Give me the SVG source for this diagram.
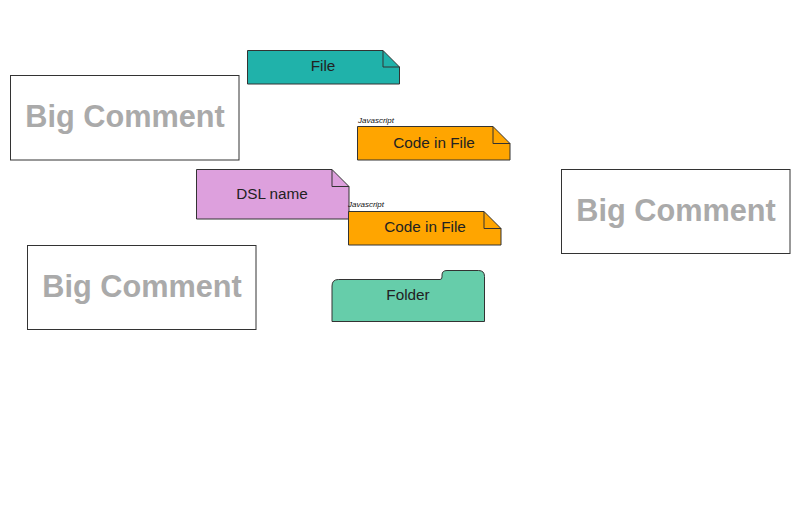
<svg xmlns="http://www.w3.org/2000/svg" width="800" height="532" viewBox="0 0 800 532">
<style>
.note{stroke:#333;stroke-width:1}
.fold{fill:none;stroke:#333;stroke-width:1}
.lbl{font-family:"Liberation Sans",Arial,sans-serif;font-size:15.3px;fill:#222;text-anchor:middle}
.lang{font-family:"Liberation Sans",Arial,sans-serif;font-size:8px;font-style:italic;fill:#111}
.big rect{fill:#fff;stroke:#333;stroke-width:1}
.big text{font-family:"Liberation Sans",Arial,sans-serif;font-size:30.7px;font-weight:bold;fill:#aaa;text-anchor:middle}
</style>
<rect width="800" height="532" fill="#fff"/>
<g id="comment1" class="big"><rect x="10.5" y="75.5" width="228.5" height="84.5"/><text x="125" y="127">Big Comment</text></g>
<g id="comment2" class="big"><rect x="27.5" y="245.5" width="228.5" height="84"/><text x="142" y="297">Big Comment</text></g>
<g id="comment3" class="big"><rect x="561.5" y="169.5" width="228.5" height="84"/><text x="676" y="221">Big Comment</text></g>
<g id="file"><path class="note" fill="#20B2AA" d="M247.5,50.5 H383 L399.5,67 V84 H247.5 Z"/><path class="fold" d="M383,50.5 V67 H399.5"/><text class="lbl" x="323" y="71">File</text></g>
<g id="code1"><text class="lang" x="358" y="123">Javascript</text><path class="note" fill="#FFA500" d="M357.5,126.5 H493 L510,143.5 V160 H357.5 Z"/><path class="fold" d="M493,126.5 V143.5 H510"/><text class="lbl" x="434" y="148">Code in File</text></g>
<g id="dsl"><path class="note" fill="#DDA0DD" d="M196.5,169.5 H332 L349,186.5 V219 H196.5 Z"/><path class="fold" d="M332,169.5 V186.5 H349"/><text class="lbl" x="272" y="199">DSL name</text></g>
<g id="code2"><text class="lang" x="348" y="207">Javascript</text><path class="note" fill="#FFA500" d="M348.5,211.5 H484 L501,228.5 V245 H348.5 Z"/><path class="fold" d="M484,211.5 V228.5 H501"/><text class="lbl" x="425" y="232">Code in File</text></g>
<g id="folder"><path class="note" fill="#66CDAA" d="M332,321.5 V286 Q332,279.5 338.5,279.5 H440 Q442,279.5 442,277 V275 Q442,270.5 447,270.5 H478.5 Q484.5,270.5 484.5,276.5 V321.5 Z"/><text class="lbl" x="408" y="300">Folder</text></g>
<g id="connectors"/>
</svg>
